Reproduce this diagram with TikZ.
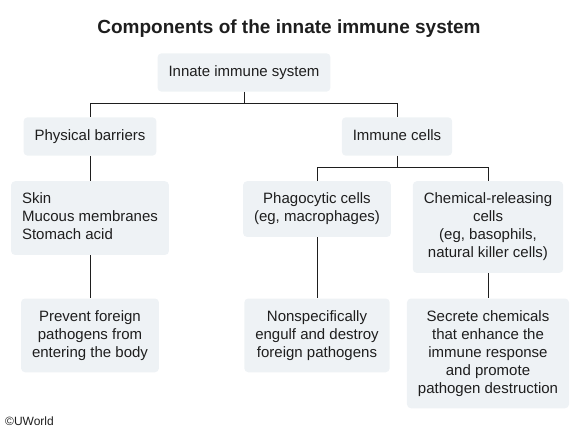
\documentclass[tikz,border=0pt]{standalone}
\usepackage{fontspec}
\setmainfont{Liberation Sans}
\usepackage{xcolor}
\usepackage{tikz}
\usetikzlibrary{calc}
\definecolor{boxfill}{HTML}{EEF2F5}
\definecolor{inkgray}{HTML}{1E1E1E}
\newcommand{\linestrut}{\rule[-3.5pt]{0pt}{15pt}}

\begin{document}
\begin{tikzpicture}%
	[x=1pt,
	y=-1pt,
	title/.style={font=\bfseries\fontsize{19}{22}\selectfont, text=inkgray, inner sep=0pt, anchor=base},
	block/.style={fill=boxfill, rounded corners=4pt, inner xsep=11pt, inner ysep=11.7pt, align=center, font=\fontsize{15}{18}\selectfont, text=inkgray, execute at begin node=\linestrut, execute at end node=\linestrut},
	edge/.style={draw=inkgray, line width=1pt},
	credit/.style={font=\fontsize{12}{14}\selectfont, text=inkgray, inner sep=0pt, anchor=base west}]
%
\useasboundingbox (0,0) rectangle (578,430);
%%
%% Title
%%
\node[title] (title) at (289,34) {Components of the innate immune system};
%%
%%
%% Drawing the boxes
%%
\node[block] (innate) at (244,72.5) {Innate immune system};
\node[block] (physical) at (90,136.5) {Physical barriers};
\node[block] (immune) at (397,136.5) {Immune cells};
\node[block, anchor=north, align=left] (skin) at (90,181) {Skin\\Mucous membranes\\Stomach acid};
\node[block, anchor=north] (phago) at (317,181) {Phagocytic cells\\(eg, macrophages)};
\node[block, anchor=north] (chemical) at (488,181) {Chemical-releasing\\cells\\(eg, basophils,\\natural killer cells)};
\node[block, anchor=north] (prevent) at (90,298.3) {Prevent foreign\\pathogens from\\entering the body};
\node[block, anchor=north] (engulf) at (317,298.3) {Nonspecifically\\engulf and destroy\\foreign pathogens};
\node[block, anchor=north] (secrete) at (488,298.3) {Secrete chemicals\\that enhance the\\immune response\\and promote\\pathogen destruction};
%%
%%
%% Drawing the edges
%%
\draw[edge] (innate.south) -- ++(0,11.6) -| (physical.north);
\draw[edge] (innate.south) -- ++(0,11.6) -| (immune.north);
\draw[edge] (physical.south) -- (skin.north);
\draw[edge] (immune.south) -- ++(0,11.6) -| (phago.north);
\draw[edge] (immune.south) -- ++(0,11.6) -| (chemical.north);
\draw[edge] (skin.south) -- (prevent.north);
\draw[edge] (phago.south) -- (engulf.north);
\draw[edge] (chemical.south) -- (secrete.north);
%%
%%
\node[credit] (credit) at (5,425) {©UWorld};
%%
\end{tikzpicture}
\end{document}
